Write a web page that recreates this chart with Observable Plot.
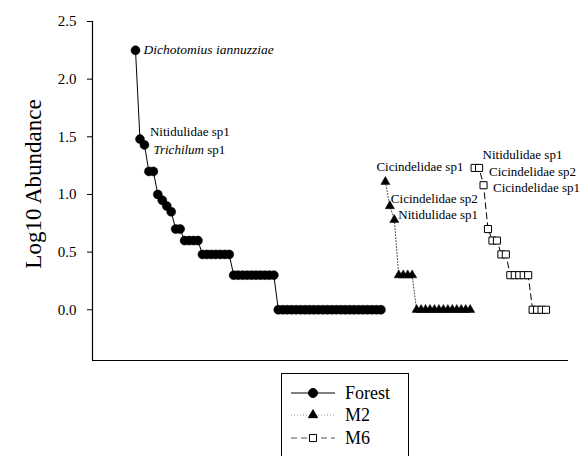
<!DOCTYPE html>
<html><head><meta charset="utf-8">
<script src="https://cdn.jsdelivr.net/npm/d3@7"></script>
<script src="https://cdn.jsdelivr.net/npm/@observablehq/plot@0.6"></script>
<style>
body{margin:0;background:#fff;overflow:hidden}
#wrap{position:relative;width:587px;height:456px;overflow:hidden}
#wrap svg, #wrap svg text{font-family:"Liberation Serif","Times New Roman",serif !important}
#legend{position:absolute;left:281px;top:373px}
</style></head><body><div id="wrap"></div>
<script>
// ---- data ----
const seriesNames = ["Forest", "M2", "M6"];
const forestValues = [2.25, 1.48, 1.43, 1.2, 1.2, 1.0, 0.95, 0.9, 0.85, 0.7, 0.7,
  0.6, 0.6, 0.6, 0.6,
  0.48, 0.48, 0.48, 0.48, 0.48, 0.48, 0.48,
  0.3, 0.3, 0.3, 0.3, 0.3, 0.3, 0.3, 0.3, 0.3, 0.3,
  0, 0, 0, 0, 0, 0, 0, 0, 0, 0, 0, 0, 0, 0, 0, 0, 0, 0, 0, 0, 0, 0, 0, 0];
const m2Values = [1.11, 0.9, 0.78, 0.3, 0.3, 0.3, 0.3,
  0, 0, 0, 0, 0, 0, 0, 0, 0, 0, 0, 0, 0];
const m6Values = [1.23, 1.23, 1.08, 0.7, 0.6, 0.6, 0.48, 0.48,
  0.3, 0.3, 0.3, 0.3, 0.3, 0, 0, 0, 0];
const forestLabels = ["Dichotomius iannuzziae", "Nitidulidae sp1", "Trichilum sp1"];
const m2Labels = ["Cicindelidae sp1", "Cicindelidae sp2", "Nitidulidae sp1"];
const m6Labels = ["Nitidulidae sp1", "Cicindelidae sp2", "Cicindelidae sp1"];
const yTicks = [0, 0.5, 1.0, 1.5, 2.0, 2.5];
const yTitle = "Log10 Abundance";

// ---- styles / placement ----
const FONT = "'Liberation Serif','Times New Roman',serif";
const labelOffsets = {
  Forest: [[8, -1, "italic"], [10, -7, null], [9, 5, "partial"]],
  M2: [[-9, -15, null], [1, -7, null], [4, -5, null]],
  M6: [[8, -13, null], [10, 4, null], [9.5, 3, null]]
};
const xDomain = [-8.64, 98.04];
const yDomain = [-0.44, 2.5];

// ---- build rows ----
let rank = 0;
function rows(name, values, labels) {
  return values.map((v, i) => ({series: name, rank: ++rank, value: v, label: labels[i] || null, li: i}));
}
const forest = rows("Forest", forestValues, forestLabels);
const m2 = rows("M2", m2Values, m2Labels);
const m6 = rows("M6", m6Values, m6Labels);
const labeled = [...forest, ...m2, ...m6].filter(d => d.label);

const textMarks = labeled.map(d => {
  const [dx, dy, st] = labelOffsets[d.series][d.li];
  return Plot.text([d], {x: "rank", y: "value", text: "label", dx, dy, textAnchor: "start",
    fontSize: st === "italic" ? 13.5 : 13, fontFamily: FONT, fontStyle: st === "italic" ? "italic" : "normal", fill: "black"});
});

const chart = Plot.plot({
  width: 587, height: 372,
  marginLeft: 92, marginRight: 19, marginTop: 21, marginBottom: 12,
  style: {fontFamily: FONT, fontSize: "15px", color: "black", background: "white"},
  x: {domain: xDomain, axis: null},
  y: {domain: yDomain},
  marks: [
    Plot.axisY({ticks: yTicks, tickFormat: d3.format(".1f"), tickSize: 5, tickPadding: 11, fontSize: 15, label: null, stroke: "black"}),
    Plot.ruleX([xDomain[0]], {stroke: "black", strokeWidth: 1.2}),
    Plot.ruleY([yDomain[0]], {stroke: "black", strokeWidth: 1.2}),
    Plot.line(forest, {x: "rank", y: "value", stroke: "black", strokeWidth: 1}),
    Plot.line(m2, {x: "rank", y: "value", stroke: "#444", strokeWidth: 1, strokeDasharray: "1,2"}),
    Plot.line(m6, {x: "rank", y: "value", stroke: "black", strokeWidth: 1, strokeDasharray: "6,4"}),
    Plot.dot(forest, {x: "rank", y: "value", r: 4.5, fill: "black", stroke: "black", strokeWidth: 0.5}),
    Plot.dot(m2, {x: "rank", y: "value", symbol: "triangle", r: 3.4, fill: "black", stroke: "black", strokeWidth: 0.5}),
    Plot.dot(m6, {x: "rank", y: "value", symbol: "square", r: 4, fill: "white", stroke: "black", strokeWidth: 1}),
    ...textMarks
  ]
});

const wrap = document.getElementById("wrap");
wrap.appendChild(chart);
const svg = d3.select(chart);

// mixed italic label
svg.selectAll("text").each(function() {
  if (this.textContent === "Trichilum sp1") {
    const t = d3.select(this);
    t.text(null);
    t.append("tspan").attr("font-style", "italic").text("Trichilum");
    t.append("tspan").text(" sp1");
  }
});

// y axis title
svg.append("text")
  .attr("transform", "translate(33,184) rotate(-90)")
  .attr("text-anchor", "middle")
  .attr("dy", "0.35em")
  .attr("font-size", 23)
  .attr("font-family", FONT)
  .attr("fill", "black")
  .text(yTitle);

// legend
const legendStyles = [
  {dash: null, stroke: "black", symbol: d3.symbolCircle, size: Math.PI * 4.5 * 4.5, fill: "black"},
  {dash: "1,2", stroke: "#999", symbol: d3.symbolTriangle, size: Math.PI * 3.4 * 3.4, fill: "black"},
  {dash: "6,4", stroke: "#555", symbol: d3.symbolSquare, size: Math.PI * 4 * 4, fill: "white"}
];
const rowY = [20, 42, 65];
const lg = d3.select(wrap).append("svg").attr("id", "legend").attr("width", 128).attr("height", 90);
lg.append("rect").attr("x", 0.5).attr("y", 0.5).attr("width", 127).attr("height", 100)
  .attr("fill", "white").attr("stroke", "black");
seriesNames.forEach((name, i) => {
  const s = legendStyles[i], y = rowY[i];
  lg.append("line").attr("x1", 10).attr("x2", 54).attr("y1", y).attr("y2", y)
    .attr("stroke", s.stroke).attr("stroke-width", 1).attr("stroke-dasharray", s.dash);
  lg.append("path").attr("d", d3.symbol(s.symbol, s.size)()).attr("transform", `translate(32,${y})`)
    .attr("fill", s.fill).attr("stroke", "black").attr("stroke-width", 1);
  lg.append("text").attr("x", 64).attr("y", y).attr("dy", "0.35em").attr("font-size", 18)
    .attr("font-family", FONT).text(name);
});
</script></body></html>
